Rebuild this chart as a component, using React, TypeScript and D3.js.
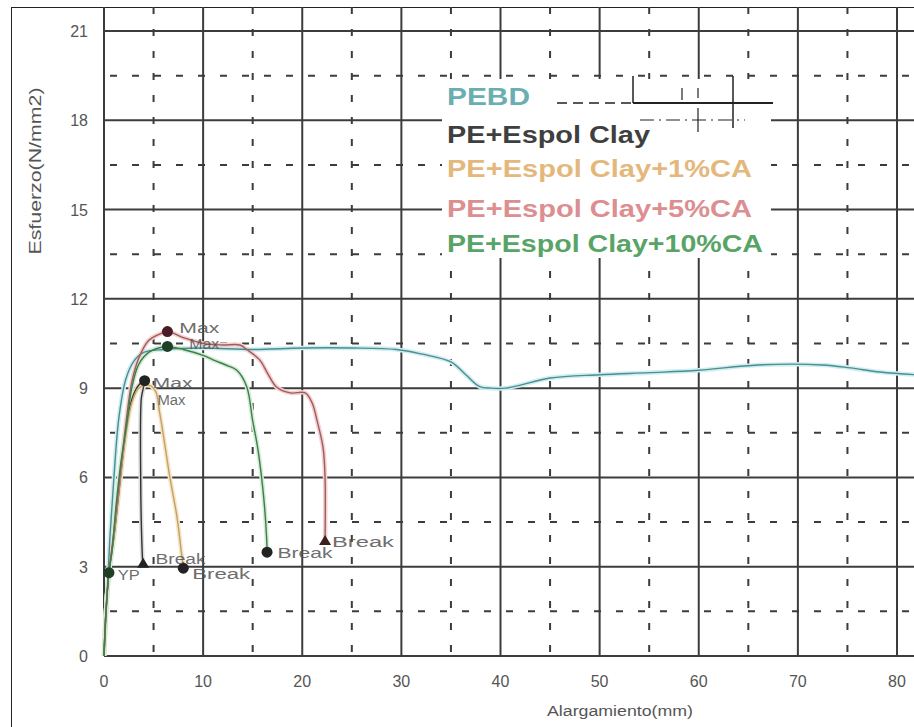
import React from "react";
import * as d3 from "d3";

const xTicks = [0, 10, 20, 30, 40, 50, 60, 70, 80];
const yTicks = [0, 3, 6, 9, 12, 15, 18, 21];
const xGridMinor = [5, 15, 25, 35, 45, 55, 65, 75, 85];
const yGridMinor = [1.5, 4.5, 7.5, 10.5, 13.5, 16.5, 19.5];

const seriesNames = ["PEBD", "PE+Espol Clay", "PE+Espol Clay+1%CA", "PE+Espol Clay+5%CA", "PE+Espol Clay+10%CA"];
const legendColors = ["#6aaeb1", "#3f3f3f", "#e4b87c", "#dc8e90", "#58a466"];
const lineColors = ["#4d8c90", "#333333", "#c2a06a", "#9c5d5d", "#3f7d4b"];
const haloColors = ["#cfeef0", "#dddddd", "#f7e6c6", "#f6d0d0", "#d3ecd5"];
const legendWidths = [83, 203, 305, 305, 316];

const pebd: [number, number][] = [
  [0, 0], [0.3, 2], [0.6, 4], [1, 6], [1.5, 8], [2.2, 9.3], [3, 9.9], [4, 10.2], [6, 10.3],
  [10, 10.35], [15, 10.3], [20, 10.35], [25, 10.35], [29.5, 10.3], [32, 10.15], [35, 9.88],
  [36.5, 9.45], [37.9, 9.05], [39, 9.0], [40.5, 9.0], [42, 9.1], [45, 9.34], [50, 9.45], [55, 9.52], [60, 9.6],
  [66, 9.78], [72.5, 9.78], [75.3, 9.68], [78.3, 9.54], [82, 9.45], [86, 9.4],
];
const clay: [number, number][] = [
  [0, 0], [0.2, 1.5], [0.5, 2.8], [1, 4], [1.5, 5.5], [2, 7], [2.5, 8.2], [3, 8.8], [3.5, 9.1],
  [4.0, 9.2], [3.75, 8.6], [3.7, 6], [3.8, 4], [3.9, 3.15],
];
const clay1: [number, number][] = [
  [0, 0], [0.2, 1.5], [0.5, 2.8], [1, 4], [1.6, 5.8], [2.2, 7.4], [2.8, 8.5], [3.5, 9.0],
  [4.5, 9.1], [5.2, 8.9], [5.6, 8.2], [5.95, 7.5], [6.65, 6.0], [7.35, 4.7], [7.8, 3.5], [8.0, 2.95],
];
const clay5: [number, number][] = [
  [0, 0], [0.2, 1.5], [0.5, 2.8], [1, 4.2], [1.6, 6], [2.2, 7.8], [2.8, 9.2], [3.5, 10],
  [4.5, 10.6], [5.5, 10.8], [6.4, 10.9], [8, 10.7], [10, 10.5], [12, 10.45], [13.7, 10.45],
  [14.4, 10.3], [15.7, 9.95], [16.5, 9.5], [17.4, 9.04], [18.8, 8.84], [20.3, 8.84], [21, 8.5],
  [21.5, 7.9], [22.1, 7.0], [22.3, 6], [22.3, 3.83],
];
const clay10: [number, number][] = [
  [0, 0], [0.2, 1.5], [0.5, 2.8], [0.8, 3.5], [1.2, 5], [1.7, 6.5], [2.3, 7.8], [2.8, 9],
  [3.5, 9.8], [4.5, 10.2], [5.5, 10.35], [6.4, 10.4], [8, 10.3], [10, 10.1], [11, 9.95],
  [12.5, 9.75], [13.4, 9.6], [14.4, 9.05], [15, 7.9], [15.5, 7], [15.9, 6], [16.2, 5],
  [16.4, 4], [16.45, 3.5],
];
const allSeries = [pebd, clay, clay1, clay5, clay10];

const markerX = [0.5, 4.1, 3.95, 8.0, 6.4, 16.45, 6.4, 22.3];
const markerY = [2.8, 9.25, 3.1, 2.95, 10.4, 3.49, 10.9, 3.86];
const markerShape = ["circle", "circle", "triangle", "circle", "circle", "circle", "circle", "triangle"];
const markerColor = ["#1f3f26", "#222222", "#222222", "#222222", "#1f3f26", "#222222", "#4a1c28", "#3a2020"];

const labelText = ["YP", "Max", "Max", "Break", "Break", "Max", "Max", "Break", "Break"];
const labelX = [1.4, 4.9, 5.4, 5.2, 8.9, 7.6, 8.6, 17.5, 23.0];
const labelY = [2.55, 9.0, 8.45, 3.1, 2.6, 10.85, 10.3, 3.3, 3.65];
const labelW = [22, 40, 28, 50, 58, 40, 30, 55, 62];

const W = 914;
const H = 727;

export default function App() {
  const xs = d3.scaleLinear().domain([0, 80]).range([104, 897]);
  const ys = d3.scaleLinear().domain([0, 21]).range([656, 31]);
  const topY = 7;
  const rightX = 1000;

  const line = d3
    .line<[number, number]>()
    .x((d) => xs(d[0]))
    .y((d) => ys(d[1]))
    .curve(d3.curveCatmullRom.alpha(0.5));

  const gridColor = "#3c3c3c";
  const font = "Liberation Sans, Arial, sans-serif";

  return (
    <svg width={W} height={H} style={{ position: "absolute", left: 0, top: 0, background: "#fff" }}>
      <rect x={0} y={0} width={W} height={H} fill="#fff" />
      <rect x={11.5} y={7.5} width={1000} height={1000} fill="none" stroke="#222" strokeWidth={1} />

      {yGridMinor.map((v) => (
        <line key={"hy" + v} x1={xs(0)} x2={rightX} y1={ys(v)} y2={ys(v)} stroke={gridColor}
          strokeWidth={2} strokeDasharray="7,15" strokeDashoffset={-6} />
      ))}
      {xGridMinor.map((v) => (
        <line key={"vx" + v} x1={xs(v)} x2={xs(v)} y1={ys(0)} y2={topY} stroke={gridColor}
          strokeWidth={2} strokeDasharray="7,15" strokeDashoffset={-4} />
      ))}
      {yTicks.map((v) => (
        <line key={"Hy" + v} x1={xs(0)} x2={rightX} y1={ys(v)} y2={ys(v)} stroke={gridColor} strokeWidth={2} />
      ))}
      {[...xTicks, 90].map((v) => (
        <line key={"Vx" + v} x1={xs(v)} x2={xs(v)} y1={ys(0)} y2={topY} stroke={gridColor} strokeWidth={2} />
      ))}

      <rect x={442} y={79} width={329} height={179} fill="#fff" />
      <g stroke="#222" fill="none">
        <line x1={557} x2={633} y1={103} y2={103} strokeWidth={1.5} strokeDasharray="10,6" />
        <line x1={633} x2={773} y1={103} y2={103} strokeWidth={1.8} />
        <line x1={633} x2={633} y1={76} y2={103} strokeWidth={1.5} />
        <line x1={733} x2={733} y1={76} y2={128} strokeWidth={1.5} />
        <line x1={640} x2={745} y1={120} y2={120} strokeWidth={1.2} strokeDasharray="14,5,2,5" />
        <line x1={682} x2={682} y1={88} y2={100} strokeWidth={1.2} />
        <line x1={698} x2={698} y1={88} y2={98} strokeWidth={1.2} />
        <line x1={698} x2={698} y1={108} y2={132} strokeWidth={1.2} />
      </g>

      {allSeries.map((s, i) => (
        <path key={"h" + i} d={line(s) || ""} fill="none" stroke={haloColors[i]} strokeWidth={4.5} strokeLinejoin="round" />
      ))}
      {allSeries.map((s, i) => (
        <path key={"l" + i} d={line(s) || ""} fill="none" stroke={lineColors[i]} strokeWidth={1.4} strokeLinejoin="round" />
      ))}

      {markerX.map((mx, i) => {
        const cx = xs(mx);
        const cy = ys(markerY[i]);
        if (markerShape[i] === "triangle") {
          const p = d3.path();
          p.moveTo(cx, cy - 6);
          p.lineTo(cx + 6, cy + 4);
          p.lineTo(cx - 6, cy + 4);
          p.closePath();
          return <path key={"m" + i} d={p.toString()} fill={markerColor[i]} />;
        }
        return <circle key={"m" + i} cx={cx} cy={cy} r={5.5} fill={markerColor[i]} />;
      })}

      {labelText.map((t, i) => (
        <text key={"a" + i} x={xs(labelX[i])} y={ys(labelY[i])} fontFamily={font} fontSize={14}
          fill="#555" textLength={labelW[i]} lengthAdjust="spacingAndGlyphs" opacity={0.85}>
          {t}
        </text>
      ))}

      {seriesNames.map((n, i) => (
        <text key={"lg" + i} x={447} y={[105, 143, 177, 217, 252][i]} fontFamily={font} fontSize={24}
          fontWeight="bold" fill={legendColors[i]} textLength={legendWidths[i]} lengthAdjust="spacingAndGlyphs">
          {n}
        </text>
      ))}

      {yTicks.map((v) => (
        <text key={"yt" + v} x={88} y={ys(v) + 6} textAnchor="end" fontFamily={font} fontSize={16} fill="#555">
          {v}
        </text>
      ))}
      {xTicks.map((v) => (
        <text key={"xt" + v} x={xs(v)} y={687} textAnchor="middle" fontFamily={font} fontSize={16} fill="#555">
          {v}
        </text>
      ))}

      <text x={620} y={716} textAnchor="middle" fontFamily={font} fontSize={14} fill="#555"
        textLength={146} lengthAdjust="spacingAndGlyphs">
        Alargamiento(mm)
      </text>
      <text transform={`translate(41,171) rotate(-90)`} textAnchor="middle" fontFamily={font} fontSize={16}
        fill="#555" textLength={167} lengthAdjust="spacingAndGlyphs">
        Esfuerzo(N/mm2)
      </text>
    </svg>
  );
}
